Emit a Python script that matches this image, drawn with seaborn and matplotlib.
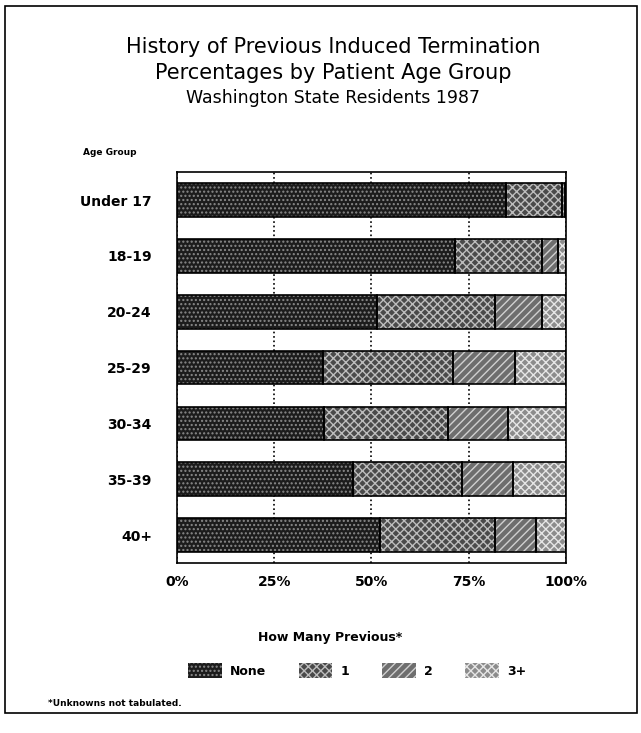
import numpy as np
import pandas as pd
import seaborn as sns
import matplotlib
matplotlib.use("Agg")
from matplotlib import pyplot as plt
from matplotlib.patches import Patch, Rectangle

age_groups = ["Under 17", "18-19", "20-24", "25-29", "30-34", "35-39", "40+"]
none_pct = [84.5, 71.5, 51.4, 37.5, 37.8, 45.2, 52.2]
one_pct = [14.5, 22.3, 30.3, 33.5, 31.9, 28.1, 29.5]
two_pct = [0.7, 4.2, 12.1, 16.0, 15.3, 13.1, 10.6]
three_plus_pct = [0.3, 2.0, 6.2, 13.0, 15.0, 13.6, 7.7]
series_names = ["None", "1", "2", "3+"]
tick_labels = ["0%", "25%", "50%", "75%", "100%"]

df = pd.DataFrame({"age": age_groups, "None": none_pct, "1": one_pct,
                   "2": two_pct, "3+": three_plus_pct})
cum = df[series_names].cumsum(axis=1)

sns.set_theme(style="white")
plt.rcParams["font.family"] = ["DejaVu Sans"]
plt.rcParams["text.color"] = "black"
plt.rcParams["xtick.color"] = "black"
plt.rcParams["ytick.color"] = "black"

# grey levels + hatch pattern imitate the halftone fills
fills = {"None": "#1c1c1c", "1": "#4a4a4a", "2": "#6e6e6e", "3+": "#8c8c8c"}
hatches = {"None": "....", "1": "xxxx", "2": "////", "3+": "xxxx"}
hatch_cols = {"None": "#8a8a8a", "1": "#bdbdbd", "2": "#d0d0d0", "3+": "#e6e6e6"}

fig = plt.figure(figsize=(6.41, 7.33), dpi=100)
ax = fig.add_axes([0.276, 0.232, 0.607, 0.533])

# stacked bars: draw cumulative totals, largest first
for name in reversed(series_names):
    before = len(ax.patches)
    sns.barplot(x=cum[name], y=df["age"], orient="h", color=fills[name],
                width=0.6, saturation=1, ax=ax, zorder=2)
    for p in ax.patches[before:]:
        p.set_hatch(hatches[name])
        p.set_edgecolor(hatch_cols[name])
        p.set_linewidth(0)
# black outlines for each segment
for name in series_names:
    left = cum[name] - df[name]
    for i in range(len(age_groups)):
        ax.add_patch(Rectangle((left[i], i - 0.3), df[name][i], 0.6, fill=False,
                               edgecolor="black", linewidth=1.2, zorder=3))

ax.set_xlim(0, 100)
ax.set_ylim(6.5, -0.5)
ax.set_xticks([0, 25, 50, 75, 100])
ax.set_xticklabels(tick_labels, fontsize=10, fontweight="bold")
ax.tick_params(axis="y", labelsize=10, pad=12)
for t in ax.get_yticklabels():
    t.set_fontweight("bold")
ax.tick_params(axis="x", pad=3)
ax.set_xlabel("")
ax.set_ylabel("")
ax.grid(axis="x", color="black", linestyle=":", linewidth=1.2, zorder=0)
ax.set_axisbelow(True)
for s in ax.spines.values():
    s.set_color("black")
    s.set_linewidth(1.2)

fig.text(0.52, 0.928, "History of Previous Induced Termination", ha="center",
         fontsize=15)
fig.text(0.52, 0.892, "Percentages by Patient Age Group", ha="center", fontsize=15)
fig.text(0.52, 0.860, "Washington State Residents 1987", ha="center", fontsize=12.5)
fig.text(0.13, 0.788, "Age Group", fontsize=6.5, fontweight="bold")

handles = [Patch(facecolor=fills[n], hatch=hatches[n], edgecolor=hatch_cols[n],
                 linewidth=0) for n in series_names]
leg = fig.legend(handles, series_names, loc="center", bbox_to_anchor=(0.557, 0.085),
                 ncol=4, frameon=False, handlelength=2.7, handleheight=1.5,
                 handletextpad=0.65, columnspacing=2.6,
                 prop={"weight": "bold", "size": 9})
fig.text(0.515, 0.125, "How Many Previous*", ha="center", fontsize=9,
         fontweight="bold")
fig.text(0.075, 0.037, "*Unknowns not tabulated.", fontsize=6.5, fontweight="bold")

fig.add_artist(Rectangle((0.008, 0.027), 0.985, 0.965, transform=fig.transFigure,
                         fill=False, edgecolor="black", linewidth=1.2))

fig.savefig("out.png", dpi=100)
